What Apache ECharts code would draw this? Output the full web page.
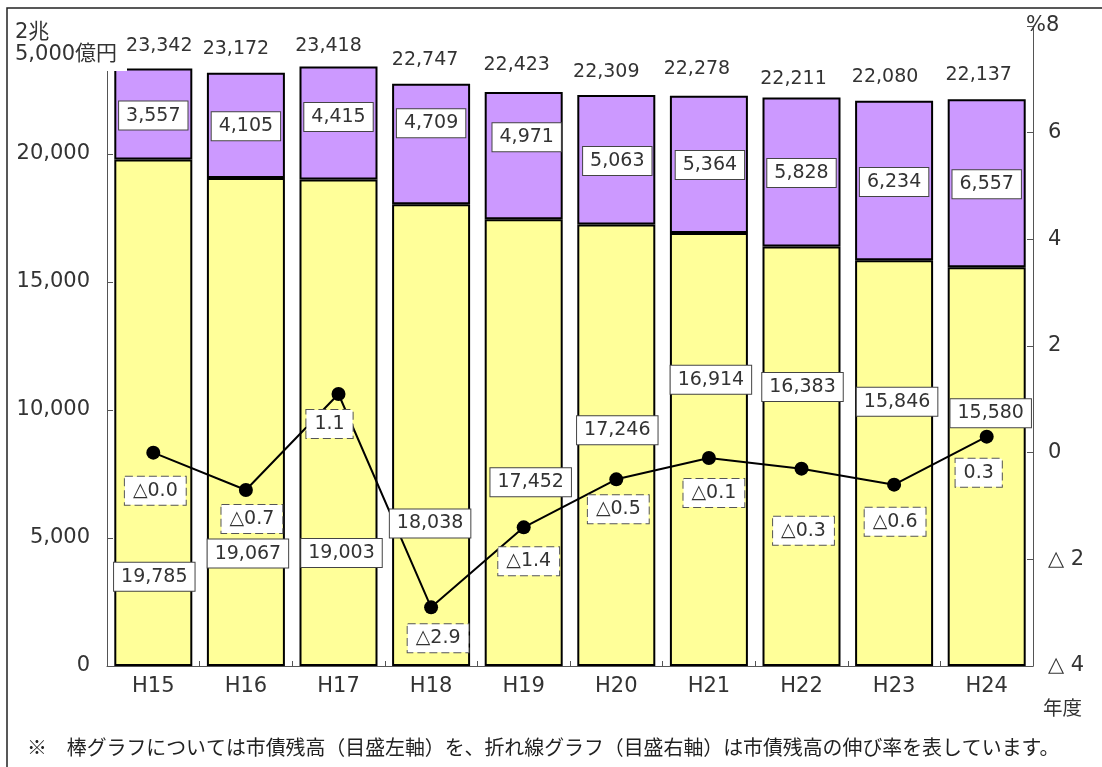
<!DOCTYPE html>
<html><head><meta charset="utf-8">
<script src="https://cdn.jsdelivr.net/npm/echarts@6/dist/echarts.min.js"></script>
<style>html,body{margin:0;padding:0;background:#fff}#c{width:1102px;height:767px}</style>
</head><body><div id="c"></div>
<script>
// ---- data ----
const years = ['H15','H16','H17','H18','H19','H20','H21','H22','H23','H24'];
const lowerValues = [19785,19067,19003,18038,17452,17246,16914,16383,15846,15580];
const upperValues = [3557,4105,4415,4709,4971,5063,5364,5828,6234,6557];
const totals = [23342,23172,23418,22747,22423,22309,22278,22211,22080,22137];
const growthRates = [-0.0,-0.7,1.1,-2.9,-1.4,-0.5,-0.1,-0.3,-0.6,0.3];
const leftTicks = [0,5000,10000,15000,20000,25000];
const leftTickLabels = ['0','5,000','10,000','15,000','20,000','2兆\n5,000億円'];
const rightTicks = [-4,-2,0,2,4,6,8];
const rightTickLabels = ['△ 4','△ 2','0','2','4','6','%8'];
const unitLabel = '年度';
const footnote = '※　棒グラフについては市債残高（目盛左軸）を、折れ線グラフ（目盛右軸）は市債残高の伸び率を表しています。';

// ---- label layout (not data) ----
const lowerLabelAt = [3490,4390,4410,5570,7180,9210,11180,10900,10320,9870];
const lowerLabelDx = [1,2,3,-1,7,1,2,1,3,4];
const upperLabelAt = [21500,21080,21450,21200,20650,19730,19570,19260,18910,18820];
const upperLabelDx = [0,0,0,0,3,1,1,0,0,0];
const totalLabelOffset = [[6,1],[-10,0],[-10,3],[-6,0],[-7,-3],[-10,1],[-12,-3],[-8,5],[-9,0],[-8,-1]];
const rateLabelOffset = [[2,38],[6,29],[-9,30],[7,31],[5,34],[2,30],[5,35],[2,62],[1,37],[-8,36]];

const F = '"DejaVu Sans", "Noto Sans CJK JP", sans-serif';
const FJ = '"Noto Sans CJK JP", sans-serif';
const fmt = v => String(v).replace(/\B(?=(\d{3})+(?!\d))/g, ',');
const rateFmt = v => ((v < 0 || Object.is(v, -0)) ? '△' : '') + Math.abs(v).toFixed(1);

const boxLabel = {
  show: true, position: 'inside', fontFamily: F, fontSize: 19, color: '#333', opacity: 1,
  backgroundColor: '#ffffff', borderColor: '#444', borderWidth: 1, padding: [4, 7], lineHeight: 20
};

const chart = echarts.init(document.getElementById('c'), null, {renderer: 'canvas'});
chart.setOption({
  animation: false,
  backgroundColor: '#fff',
  grid: {left: 107, right: 69, top: 26, bottom: 101, containLabel: false},
  xAxis: {
    type: 'category', data: years, boundaryGap: true,
    axisLine: {lineStyle: {color: '#555', width: 1}},
    axisTick: {show: true, inside: true, length: 5, lineStyle: {color: '#555'}},
    axisLabel: {fontFamily: F, fontSize: 21, color: '#333', margin: 10},
    name: unitLabel, nameLocation: 'end', nameGap: 10,
    nameTextStyle: {fontFamily: FJ, fontSize: 19.5, color: '#333', verticalAlign: 'top', padding: [32, 0, 0, 0]}
  },
  yAxis: [{
    type: 'value', position: 'left', min: leftTicks[0], max: leftTicks[leftTicks.length - 1], interval: 5000,
    axisLine: {show: true, lineStyle: {color: '#555', width: 1}},
    axisTick: {show: true, inside: true, length: 6, lineStyle: {color: '#555'}},
    splitLine: {show: false},
    axisLabel: {fontFamily: F, fontSize: 21, color: '#333', margin: 17,
      formatter: v => { const i = leftTicks.indexOf(v); return (i < 0 || i === leftTicks.length - 1) ? '' : leftTickLabels[i]; }}
  }, {
    type: 'value', position: 'right', min: rightTicks[0], max: rightTicks[rightTicks.length - 1], interval: 2,
    axisLine: {show: true, lineStyle: {color: '#555', width: 1}},
    axisTick: {show: true, inside: true, length: 6, lineStyle: {color: '#555'}},
    splitLine: {show: false},
    axisLabel: {fontFamily: F, fontSize: 21, color: '#333', margin: 15,
      formatter: v => { const i = rightTicks.indexOf(v); return (i < 0 || i === rightTicks.length - 1) ? '' : rightTickLabels[i]; }}
  }],
  series: [{
    name: 'lower', type: 'bar', stack: 'debt', yAxisIndex: 0, barWidth: 78, z: 2,
    itemStyle: {color: '#FFFF99', borderColor: '#000', borderWidth: 2},
    data: lowerValues
  }, {
    name: 'upper', type: 'bar', stack: 'debt', yAxisIndex: 0, barWidth: 78, z: 2,
    itemStyle: {color: '#CC99FF', borderColor: '#000', borderWidth: 2},
    label: {show: true, position: 'top', distance: 14, fontFamily: F, fontSize: 19, color: '#333',
      formatter: p => fmt(totals[p.dataIndex])},
    data: upperValues.map((v, i) => ({value: v, label: {offset: totalLabelOffset[i]}}))
  }, {
    name: 'rate', type: 'line', yAxisIndex: 1, z: 4,
    symbol: 'circle', symbolSize: 14,
    itemStyle: {color: '#000'}, lineStyle: {color: '#000', width: 2},
    label: {show: true, position: 'inside', fontFamily: F, fontSize: 19, color: '#333',
      backgroundColor: '#fff', borderColor: '#555', borderWidth: 1, borderType: 'dashed', padding: [4, 8], lineHeight: 20,
      formatter: p => rateFmt(growthRates[p.dataIndex])},
    data: growthRates.map((v, i) => ({value: v, label: {offset: rateLabelOffset[i]}}))
  }, {
    name: 'lowerLabels', type: 'scatter', yAxisIndex: 0, z: 6, symbolSize: 0, silent: true,
    itemStyle: {color: '#fff', opacity: 1},
    label: Object.assign({}, boxLabel, {formatter: p => fmt(lowerValues[p.dataIndex])}),
    data: lowerLabelAt.map((y, i) => ({value: [i, y], label: {offset: [lowerLabelDx[i], 0]}}))
  }, {
    name: 'upperLabels', type: 'scatter', yAxisIndex: 0, z: 6, symbolSize: 0, silent: true,
    itemStyle: {color: '#fff', opacity: 1},
    label: Object.assign({}, boxLabel, {formatter: p => fmt(upperValues[p.dataIndex])}),
    data: upperLabelAt.map((y, i) => ({value: [i, y], label: {offset: [upperLabelDx[i], 0]}}))
  }],
  graphic: [
    {type: 'rect', silent: true, z: 0, shape: {x: 7, y: 8, width: 1300, height: 1000},
      style: {fill: 'none', stroke: '#222', lineWidth: 1.5}},
    {type: 'rect', silent: true, z: 100, shape: {x: 10, y: 18, width: 117, height: 53},
      style: {fill: '#fff'}},
    {type: 'text', silent: true, z: 101,
      style: {x: 15, y: 22, text: leftTickLabels[leftTickLabels.length - 1], font: '21px ' + F, fill: '#333', lineHeight: 22}},
    {type: 'text', silent: true, z: 101,
      style: {x: 1026, y: 26, text: rightTickLabels[rightTickLabels.length - 1], font: '21px ' + F, fill: '#333', verticalAlign: 'middle'}},
    {type: 'text', silent: true, z: 101,
      style: {x: 27, y: 747, text: footnote, font: '19.9px ' + FJ, fill: '#222', verticalAlign: 'middle'}}
  ]
});
</script>
</body></html>
